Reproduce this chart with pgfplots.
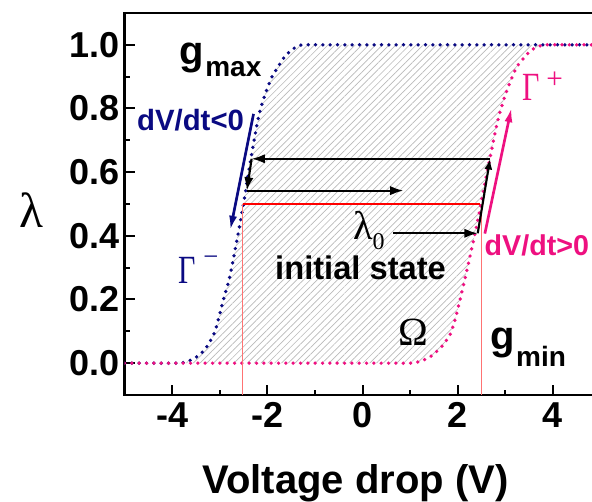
\documentclass[border=0pt]{standalone}
\usepackage{fontspec}
\setmainfont{Liberation Sans}
\newfontfamily\serif{Liberation Serif}
\usepackage{graphicx}
\usepackage{pgfplots}
\pgfplotsset{compat=1.18}
\usepgfplotslibrary{fillbetween}
\usetikzlibrary{patterns.meta,arrows.meta}
\newcommand\fs[1]{\fontsize{#1}{#1}\selectfont}
\definecolor{navyc}{RGB}{10,10,130}
\definecolor{pinkc}{RGB}{238,16,128}
\begin{document}
\begin{tikzpicture}
\begin{axis}[name=ax, scale only axis, width=357pt, height=286.5pt,
  xmin=-5, xmax=5, ymin=-0.1, ymax=1.1,
  xtick={-4,-2,0,2,4}, xticklabels={-4,-2,0,2,4},
  minor xtick={-3,-1,1,3},
  ytick={0,0.2,0.4,0.6,0.8,1.0}, yticklabels={0.0,0.2,0.4,0.6,0.8,1.0},
  minor ytick={0.1,0.3,0.5,0.7,0.9},
  tick align=inside, xtick pos=bottom, ytick pos=left,
  major tick length=7.5pt, minor tick length=4pt,
  tick style={black, line width=1.5pt},
  axis line style={line width=1.8pt},
  ticklabel style={font=\fs{27pt}\bfseries},
  xticklabel style={yshift=-2pt},
  xlabel={Voltage drop (V)},
  every axis x label/.style={at={(axis description cs:0.4855,-0.259)}, anchor=base, font=\fs{30pt}\bfseries},
  ylabel={λ},
  every axis y label/.style={at={(axis description cs:-0.196,0.484)}, anchor=center, font=\serif\fs{37pt}},
  clip=true]
% g_max curve (blue)
\addplot[name path=B, navyc, line width=2.8pt, dash pattern=on 0pt off 5.5pt, line cap=round, smooth, tension=0.4] coordinates {
(-5,0) (-4.4,0) (-3.85,0) (-3.7,0.005) (-3.6,0.01) (-3.48,0.02) (-3.3,0.045) (-3.1,0.1) (-2.92,0.2) (-2.8,0.265) (-2.71,0.33) (-2.61,0.41) (-2.5,0.5) (-2.4,0.595) (-2.29,0.69) (-2.19,0.77) (-2.1,0.82) (-2.01,0.86) (-1.9,0.9) (-1.8,0.925) (-1.65,0.96) (-1.52,0.98) (-1.4,0.993) (-1.25,1.0) (-0.6,1) (5,1)};
% g_min curve (pink)
\addplot[name path=P, pinkc, line width=2.8pt, dash pattern=on 0pt off 5.5pt, line cap=round, smooth, tension=0.4] coordinates {
(-5,0) (0.4,0) (1.0,0) (1.2,0.005) (1.42,0.02) (1.65,0.05) (1.84,0.09) (1.95,0.14) (2.05,0.2) (2.19,0.29) (2.33,0.385) (2.45,0.47) (2.55,0.55) (2.68,0.647) (2.8,0.735) (2.89,0.79) (3.03,0.856) (3.24,0.93) (3.52,0.98) (3.7,0.995) (3.85,1.0) (4.4,1) (5,1)};
\addplot[draw=none, pattern={Lines[angle=45,distance=3.6pt,line width=0.5pt]}, pattern color=gray!55] fill between[of=B and P];
% red guide lines
\addplot[red, line width=0.8pt] coordinates {(-2.52,0.5) (2.47,0.5)};
\addplot[red!55, line width=0.8pt] coordinates {(-2.52,-0.1) (-2.52,0.5)};
\addplot[red!55, line width=0.8pt] coordinates {(2.49,-0.1) (2.49,0.5)};
% direction arrows
\draw[navyc, line width=2pt, -{Latex[length=11pt,width=6pt]}] (axis cs:-2.29,0.783) -- (axis cs:-2.78,0.417);
\draw[pinkc, line width=2pt, -{Latex[length=11pt,width=6pt]}] (axis cs:2.57,0.407) -- (axis cs:3.13,0.803);
% black loop
\draw[black, line width=1.6pt, -{Latex[length=10pt,width=7pt]}] (axis cs:0.65,0.408) -- (axis cs:2.42,0.408);
\draw[black, line width=1.6pt, -{Latex[length=8pt,width=6pt]}] (axis cs:2.42,0.408) -- (axis cs:2.68,0.642);
\draw[black, line width=1.6pt, -{Latex[length=10pt,width=7pt]}] (axis cs:2.68,0.642) -- (axis cs:-2.33,0.642);
\draw[black, line width=1.6pt, -{Latex[length=10pt,width=7pt]}] (axis cs:-2.33,0.642) -- (axis cs:-2.43,0.542);
\draw[black, line width=1.6pt, -{Latex[length=10pt,width=7pt]}] (axis cs:-2.43,0.542) -- (axis cs:0.86,0.542);
% texts
\node[anchor=base west, inner sep=0] at (axis cs:-3.85,0.937) {\fs{30pt}\bfseries g\hspace{1pt}\raisebox{-8.6pt}{\fs{21pt}max}};
\node[anchor=base west, inner sep=0, text=navyc] at (axis cs:-4.74,0.73) {\fs{22pt}\bfseries dV/dt<0};
\node[anchor=base west, inner sep=0, text=navyc] at (axis cs:-3.88,0.25) {\serif\fs{30pt}\scalebox{0.75}[1]{Γ}\hspace{6pt}\raisebox{13.5pt}{\fs{20pt}−}};
\node[anchor=base west, inner sep=0, text=pinkc] at (axis cs:3.35,0.824) {\serif\fs{30pt}\scalebox{0.75}[1]{Γ}\hspace{5pt}\raisebox{9pt}{\fs{22pt}+}};
\node[anchor=base west, inner sep=0] at (axis cs:-0.2,0.39) {\serif\fs{30pt}λ\raisebox{-8pt}{\fs{18pt}0}};
\node[anchor=base west, inner sep=0] at (axis cs:-1.84,0.262) {\fs{24.5pt}\bfseries initial state};
\node[anchor=base west, inner sep=0] at (axis cs:0.745,0.056) {\serif\fs{30pt}Ω};
\node[anchor=base west, inner sep=0, text=pinkc] at (axis cs:2.56,0.339) {\fs{21.5pt}\bfseries dV/dt>0};
\node[anchor=base west, inner sep=0] at (axis cs:2.68,0.044) {\fs{30pt}\bfseries g\hspace{1pt}\raisebox{-12.8pt}{\fs{21pt}min}};
\end{axis}
\pgfresetboundingbox
\path[use as bounding box] ([xshift=-93.4pt,yshift=-80.25pt]ax.south west) rectangle ++(444pt,376.5pt);
\end{tikzpicture}
\end{document}
